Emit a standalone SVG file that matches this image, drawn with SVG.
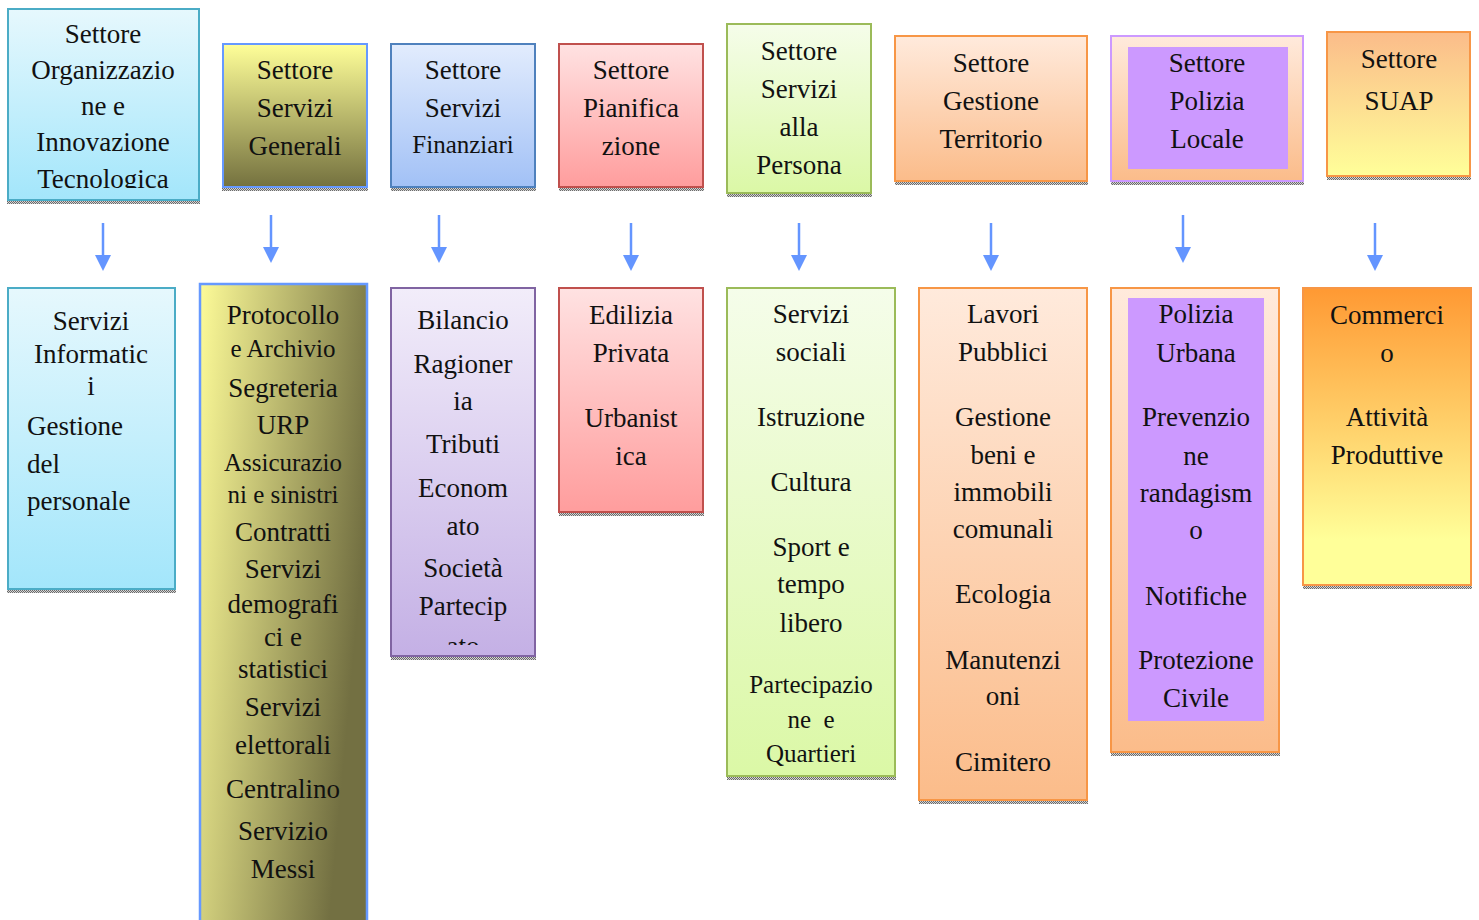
<svg xmlns="http://www.w3.org/2000/svg" width="1479" height="920" viewBox="0 0 1479 920">
<style>
text{font-family:'Liberation Serif',Tinos,'Times New Roman','Noto Serif','DejaVu Serif',serif;font-size:27px;fill:#111;text-anchor:middle}
.sm{font-size:25px}
.l{text-anchor:start}
.arr{stroke:#6495ff;stroke-width:2.5;fill:none}
.head{fill:#6495ff}
.box{stroke-width:2}
</style>
<defs>
<linearGradient id="gCyan" x1="0" y1="0" x2="0" y2="1"><stop offset="0" stop-color="#e6f8fd"/><stop offset="1" stop-color="#a3e6fb"/></linearGradient>
<linearGradient id="gGen" x1="0" y1="0" x2="0" y2="1"><stop offset="0" stop-color="#ffff99"/><stop offset="1" stop-color="#74713f"/></linearGradient>
<linearGradient id="gGen2" x1="0" y1="0" x2="1" y2="0.35"><stop offset="0" stop-color="#fdfb98"/><stop offset="1" stop-color="#737042"/></linearGradient>
<linearGradient id="gBlue" x1="0" y1="0" x2="0" y2="1"><stop offset="0" stop-color="#e2ecfd"/><stop offset="1" stop-color="#a2c1f6"/></linearGradient>
<linearGradient id="gRed" x1="0" y1="0" x2="0" y2="1"><stop offset="0" stop-color="#ffe2e2"/><stop offset="1" stop-color="#ff9d9d"/></linearGradient>
<linearGradient id="gGreen" x1="0" y1="0" x2="0" y2="1"><stop offset="0" stop-color="#f5fdea"/><stop offset="1" stop-color="#dbf8a6"/></linearGradient>
<linearGradient id="gPeach" x1="0" y1="0" x2="0" y2="1"><stop offset="0" stop-color="#ffeadc"/><stop offset="1" stop-color="#fbbc8a"/></linearGradient>
<linearGradient id="gSuapT" x1="0" y1="0" x2="0" y2="1"><stop offset="0" stop-color="#fbbc8a"/><stop offset="1" stop-color="#ffff99"/></linearGradient>
<linearGradient id="gSuapB" x1="0" y1="0" x2="0" y2="1"><stop offset="0" stop-color="#ff9933"/><stop offset="0.85" stop-color="#ffff99"/><stop offset="1" stop-color="#ffff99"/></linearGradient>
<linearGradient id="gLav" x1="0" y1="0" x2="0" y2="1"><stop offset="0" stop-color="#f2edfa"/><stop offset="1" stop-color="#c4b0e5"/></linearGradient>
<pattern id="dots" width="2" height="2" patternUnits="userSpaceOnUse"><rect width="2" height="2" fill="#d4d4d4"/><rect width="1" height="1" fill="#6a6a6a"/><rect x="1" y="1" width="1" height="1" fill="#6a6a6a"/></pattern>
<clipPath id="clipT1"><rect x="7" y="8" width="193" height="180"/></clipPath>
<clipPath id="clipB3"><rect x="391" y="288" width="145" height="357"/></clipPath>
</defs>

<!-- top row -->
<g id="t1">
<rect x="7" y="201" width="193" height="3" fill="url(#dots)"/>
<rect class="box" x="8" y="9" width="191" height="191" fill="url(#gCyan)" stroke="#4bacc6"/>
<g clip-path="url(#clipT1)">
<text x="103" y="43">Settore</text><text x="103" y="79">Organizzazio</text><text x="103" y="115">ne e</text><text x="103" y="151">Innovazione</text><text x="103" y="188">Tecnologica</text>
</g>
</g>
<g id="t2">
<rect x="222" y="188" width="146" height="3" fill="url(#dots)"/>
<rect class="box" x="223" y="44" width="144" height="143" fill="url(#gGen)" stroke="#6699ff"/>
<text x="295" y="79">Settore</text><text x="295" y="117">Servizi</text><text x="295" y="155">Generali</text>
</g>
<g id="t3">
<rect x="391" y="188" width="145" height="3" fill="url(#dots)"/>
<rect class="box" x="391" y="44" width="144" height="143" fill="url(#gBlue)" stroke="#4f81bd"/>
<text x="463" y="79">Settore</text><text x="463" y="117">Servizi</text><text class="sm" x="463" y="153">Finanziari</text>
</g>
<g id="t4">
<rect x="559" y="188" width="145" height="3" fill="url(#dots)"/>
<rect class="box" x="559" y="44" width="144" height="143" fill="url(#gRed)" stroke="#c0504d"/>
<text x="631" y="79">Settore</text><text x="631" y="117">Pianifica</text><text x="631" y="155">zione</text>
</g>
<g id="t5">
<rect x="727" y="194" width="145" height="3" fill="url(#dots)"/>
<rect class="box" x="727" y="24" width="144" height="169" fill="url(#gGreen)" stroke="#9bbb59"/>
<text x="799" y="60">Settore</text><text x="799" y="98">Servizi</text><text x="799" y="136">alla</text><text x="799" y="174">Persona</text>
</g>
<g id="t6">
<rect x="895" y="182" width="193" height="3" fill="url(#dots)"/>
<rect class="box" x="895" y="36" width="192" height="145" fill="url(#gPeach)" stroke="#f79646"/>
<text x="991" y="72">Settore</text><text x="991" y="110">Gestione</text><text x="991" y="148">Territorio</text>
</g>
<g id="t7">
<rect x="1111" y="182" width="193" height="3" fill="url(#dots)"/>
<rect class="box" x="1111" y="36" width="192" height="145" fill="url(#gPeach)" stroke="#cc99ff"/>
<rect x="1128" y="47" width="160" height="122" fill="#cc99ff"/>
<text x="1207" y="72">Settore</text><text x="1207" y="110">Polizia</text><text x="1207" y="148">Locale</text>
</g>
<g id="t8">
<rect x="1327" y="177" width="144" height="3" fill="url(#dots)"/>
<rect class="box" x="1327" y="32" width="143" height="144" fill="url(#gSuapT)" stroke="#f79646"/>
<text x="1399" y="68">Settore</text><text x="1399" y="110">SUAP</text>
</g>

<!-- connectors -->
<g id="connectors">
<line class="arr" x1="103" y1="223" x2="103" y2="257"/><polygon class="head" points="95,255 111,255 103,271"/>
<line class="arr" x1="271" y1="215" x2="271" y2="249"/><polygon class="head" points="263,247 279,247 271,263"/>
<line class="arr" x1="439" y1="215" x2="439" y2="249"/><polygon class="head" points="431,247 447,247 439,263"/>
<line class="arr" x1="631" y1="223" x2="631" y2="257"/><polygon class="head" points="623,255 639,255 631,271"/>
<line class="arr" x1="799" y1="223" x2="799" y2="257"/><polygon class="head" points="791,255 807,255 799,271"/>
<line class="arr" x1="991" y1="223" x2="991" y2="257"/><polygon class="head" points="983,255 999,255 991,271"/>
<line class="arr" x1="1183" y1="215" x2="1183" y2="249"/><polygon class="head" points="1175,247 1191,247 1183,263"/>
<line class="arr" x1="1375" y1="223" x2="1375" y2="257"/><polygon class="head" points="1367,255 1383,255 1375,271"/>
</g>

<!-- bottom row -->
<g id="b1">
<rect x="7" y="590" width="169" height="3" fill="url(#dots)"/>
<rect class="box" x="8" y="288" width="167" height="301" fill="url(#gCyan)" stroke="#4bacc6"/>
<text x="91" y="330">Servizi</text><text x="91" y="363">Informatic</text><text x="91" y="395">i</text>
<text class="l" x="27" y="435">Gestione</text><text class="l" x="27" y="473">del</text><text class="l" x="27" y="510">personale</text>
</g>
<g id="b2">
<rect x="200" y="284" width="167" height="640" fill="url(#gGen2)" stroke="#6699ff" stroke-width="2.5"/>
<text x="283" y="324">Protocollo</text><text class="sm" x="283" y="357">e Archivio</text><text x="283" y="397">Segreteria</text><text x="283" y="434">URP</text>
<text class="sm" x="283" y="471">Assicurazio</text><text class="sm" x="283" y="503">ni e sinistri</text><text x="283" y="541">Contratti</text>
<text x="283" y="578">Servizi</text><text x="283" y="613">demografi</text><text x="283" y="646">ci e</text><text x="283" y="678">statistici</text>
<text x="283" y="716">Servizi</text><text x="283" y="754">elettorali</text><text x="283" y="798">Centralino</text><text x="283" y="840">Servizio</text><text x="283" y="878">Messi</text>
</g>
<g id="b3">
<rect x="391" y="657" width="145" height="3" fill="url(#dots)"/>
<rect class="box" x="391" y="288" width="144" height="368" fill="url(#gLav)" stroke="#8064a2"/>
<g clip-path="url(#clipB3)">
<text x="463" y="329">Bilancio</text><text x="463" y="373">Ragioner</text><text x="463" y="410">ia</text><text x="463" y="453">Tributi</text>
<text x="463" y="497">Econom</text><text x="463" y="535">ato</text><text x="463" y="577">Società</text><text x="463" y="615">Partecip</text><text x="463" y="655">ato</text>
</g>
</g>
<g id="b4">
<rect x="559" y="513" width="145" height="3" fill="url(#dots)"/>
<rect class="box" x="559" y="288" width="144" height="224" fill="url(#gRed)" stroke="#c0504d"/>
<text x="631" y="324">Edilizia</text><text x="631" y="362">Privata</text><text x="631" y="427">Urbanist</text><text x="631" y="465">ica</text>
</g>
<g id="b5">
<rect x="727" y="777" width="169" height="3" fill="url(#dots)"/>
<rect class="box" x="727" y="288" width="168" height="488" fill="url(#gGreen)" stroke="#9bbb59"/>
<text x="811" y="323">Servizi</text><text x="811" y="361">sociali</text><text x="811" y="426">Istruzione</text><text x="811" y="491">Cultura</text>
<text x="811" y="556">Sport e</text><text x="811" y="593">tempo</text><text x="811" y="632">libero</text>
<text class="sm" x="811" y="693">Partecipazio</text><text class="sm" x="811" y="728" xml:space="preserve">ne  e</text><text class="sm" x="811" y="762">Quartieri</text>
</g>
<g id="b6">
<rect x="919" y="801" width="169" height="3" fill="url(#dots)"/>
<rect class="box" x="919" y="288" width="168" height="512" fill="url(#gPeach)" stroke="#f79646"/>
<text x="1003" y="323">Lavori</text><text x="1003" y="361">Pubblici</text><text x="1003" y="426">Gestione</text><text x="1003" y="464">beni e</text>
<text x="1003" y="501">immobili</text><text x="1003" y="538">comunali</text><text x="1003" y="603">Ecologia</text>
<text x="1003" y="669">Manutenzi</text><text x="1003" y="705">oni</text><text x="1003" y="771">Cimitero</text>
</g>
<g id="b7">
<rect x="1111" y="753" width="169" height="3" fill="url(#dots)"/>
<rect class="box" x="1111" y="288" width="168" height="464" fill="url(#gPeach)" stroke="#f79646"/>
<rect x="1128" y="298" width="136" height="423" fill="#cc99ff"/>
<text x="1196" y="323">Polizia</text><text x="1196" y="362">Urbana</text><text x="1196" y="426">Prevenzio</text><text x="1196" y="465">ne</text>
<text x="1196" y="502">randagism</text><text x="1196" y="539">o</text><text x="1196" y="605">Notifiche</text>
<text x="1196" y="669">Protezione</text><text x="1196" y="707">Civile</text>
</g>
<g id="b8">
<rect x="1303" y="586" width="169" height="3" fill="url(#dots)"/>
<rect class="box" x="1303" y="288" width="168" height="297" fill="url(#gSuapB)" stroke="#f79646"/>
<text x="1387" y="324">Commerci</text><text x="1387" y="362">o</text><text x="1387" y="426">Attività</text><text x="1387" y="464">Produttive</text>
</g>
</svg>
